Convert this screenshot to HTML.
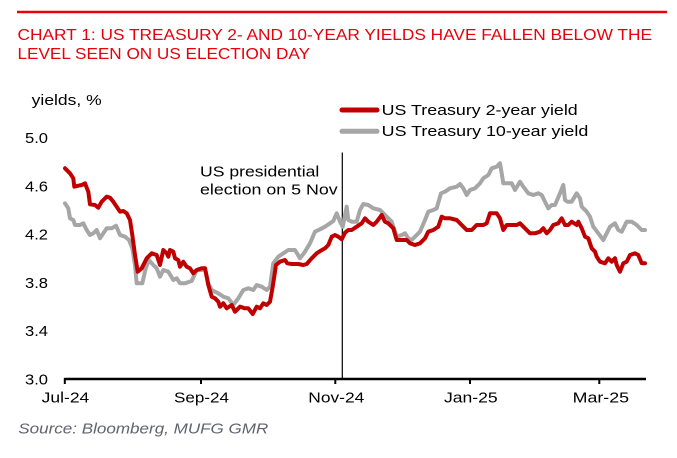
<!DOCTYPE html>
<html><head><meta charset="utf-8"><style>
html,body{margin:0;padding:0;background:#fff;}
svg{display:block;font-family:"Liberation Sans",Arial,sans-serif;}
</style></head><body>
<svg width="677" height="458" viewBox="0 0 677 458" xmlns="http://www.w3.org/2000/svg">
<rect width="677" height="458" fill="#fff"/>
<line x1="17" y1="12" x2="667" y2="12" stroke="#e8000b" stroke-width="2.5"/>
<text x="17.5" y="40" font-size="16" fill="#e8000b" textLength="634.5" lengthAdjust="spacingAndGlyphs">CHART 1: US TREASURY 2- AND 10-YEAR YIELDS HAVE FALLEN BELOW THE</text>
<text x="17.5" y="59" font-size="16" fill="#e8000b" textLength="292.5" lengthAdjust="spacingAndGlyphs">LEVEL SEEN ON US ELECTION DAY</text>

<text x="31.7" y="105" font-size="15" fill="#000" textLength="70" lengthAdjust="spacingAndGlyphs">yields, %</text>

<g font-size="15" fill="#000">
<text x="25" y="143" textLength="23" lengthAdjust="spacingAndGlyphs">5.0</text>
<text x="25" y="191.3" textLength="23" lengthAdjust="spacingAndGlyphs">4.6</text>
<text x="25" y="239.5" textLength="23" lengthAdjust="spacingAndGlyphs">4.2</text>
<text x="25" y="287.9" textLength="23" lengthAdjust="spacingAndGlyphs">3.8</text>
<text x="25" y="336.2" textLength="23" lengthAdjust="spacingAndGlyphs">3.4</text>
<text x="25" y="384.5" textLength="23" lengthAdjust="spacingAndGlyphs">3.0</text>
</g>

<!-- legend -->
<line x1="342" y1="110" x2="377" y2="110" stroke="#c00000" stroke-width="5" stroke-linecap="round"/>
<line x1="342" y1="131.3" x2="377" y2="131.3" stroke="#a6a6a6" stroke-width="5" stroke-linecap="round"/>
<text x="381.7" y="115" font-size="15" fill="#000" textLength="196" lengthAdjust="spacingAndGlyphs">US Treasury 2-year yield</text>
<text x="381.7" y="136" font-size="15" fill="#000" textLength="206.6" lengthAdjust="spacingAndGlyphs">US Treasury 10-year yield</text>

<!-- annotation -->
<text x="200" y="176.7" font-size="15" fill="#000" textLength="119.3" lengthAdjust="spacingAndGlyphs">US presidential</text>
<text x="200" y="194.3" font-size="15" fill="#000" textLength="137.7" lengthAdjust="spacingAndGlyphs">election on 5 Nov</text>
<line x1="342.3" y1="152.5" x2="342.3" y2="379" stroke="#000" stroke-width="1.2"/>

<!-- series -->
<polyline fill="none" stroke="#a6a6a6" stroke-width="4" stroke-linejoin="round" stroke-linecap="round" points="65,203.3 68.3,208.3 70,218.3 73.3,220 75,225 80,225 83.3,223.3 86.7,230 90,235 93.3,233.3 96.7,230 100,238.3 103.3,233.3 106.7,228.3 111.7,228.3 116,225.7 120,235 125,236.7 129,240 132.3,248.3 135,265 136.7,283.3 142.3,283.3 145.7,268.3 149,260 153.3,265 156.7,268.3 160,276.7 163.3,270 168.3,271.7 173.3,280 176.7,278.3 180,283.3 185,283.3 191.7,281 196.7,270 201.7,270 205,268.3 208.3,283.3 211.7,290 218.3,293.3 223.3,296.7 228.3,298.3 233.3,305 238.3,298.3 243.3,290 248.3,288.3 253.3,290 256.7,285 261.7,286.7 266.7,290 270,286.7 273.3,263.3 278.3,256.7 283.3,253.3 288.3,250 295,250 300,258.3 305,251.7 310,243.3 315,231.7 320,229.3 325,226.7 330,223.3 333.3,221 336.7,213.3 340,221.7 342.7,226.7 346.7,206.7 348.3,220 351.7,221.7 356.7,221.7 360,210 363.3,204 368.3,205 373.3,208.3 380,210 383.3,213.3 388.3,218.3 391.7,221.7 396.7,236.7 401.7,235 405,233.3 408.3,238.3 411.7,240 415,236.7 420,231.7 425,220 428.3,211.7 433.3,210 436.7,208.3 441,193.3 445,191.7 450,188.3 456.7,186.7 460,184 463.3,188.3 466.7,195 470,190 475,188.3 480,183.3 483.3,178.3 488.3,175 491.7,168.3 496.7,166.7 500,163.3 501.7,173.3 503.3,183.3 511.7,183.3 515,190 520,181.7 523.3,186.7 528.3,193.3 533.3,195 538.3,193.3 541.7,195 545,201.7 548.3,208.3 551.7,205 555,205 560,193.3 563.3,185 565,200 567.3,201.7 571.7,201.7 576.7,193.3 580,198.3 581.7,206.7 586.7,211.7 590,216.7 593.3,226.7 598.3,233.3 603.3,240 606.7,233.3 610,226.7 615,223.3 618.3,230 621.7,231.7 626.7,221.7 631.7,221.7 636.7,225 641.7,230 645,230"/>
<polyline fill="none" stroke="#c00000" stroke-width="4" stroke-linejoin="round" stroke-linecap="round" points="65,168.3 70,173.3 73.3,178.3 74.3,186.7 78.3,185.7 81.7,185 85,183.3 88.3,191.7 90,204.3 95,205 98.3,207.7 101.7,201.7 106.7,196.7 110,197.7 113.3,201.7 116.7,206.7 120,211.7 123.3,211 126.7,213.3 130,220 132.3,235 135,255 137.7,271.7 141.7,268.3 146.7,258.3 151.7,253.3 156.7,255 160,265 163.3,250 166.7,253.3 168.3,256.7 170,250 173.3,251.7 175,258.3 178.3,260 180,266.7 183.3,261.7 186.7,266.7 190,268.3 193.3,273.3 196.7,270 201.7,268.3 205,268.3 208.3,285 211.7,296.7 215,298.3 218.3,301.7 220,306.7 223.3,303.3 226.7,308.3 231.7,305 235,311.7 240,306.7 245,308.3 248.3,308.3 252.7,314 256.7,306.7 260,308.3 263.3,303.3 266.7,305 270,301.7 272.7,286.7 276,265 280,261.7 285,260 287.3,263.3 291.7,264 298.3,264 303.3,265 306.7,264 311.7,258.3 316.7,253.3 320.7,250.7 325,248.3 328.3,245 331.7,236.7 335,235 338.3,236.7 341.7,239.3 345,232.7 348.3,230 351.7,230 356.7,226.7 361.7,223.3 365,218.3 368.3,221.7 373.3,225 376.7,221.7 381.7,215 385,221.7 388.3,223.3 393.3,228.3 396.7,240 401.7,240 406.7,240 410,243.3 415,245 420,243.3 425,238.3 428.3,231.7 433.3,230 438.3,226.7 441.7,216.7 445,218.3 450,218.3 456.7,220 461.7,225 466.7,230 471.7,230 476.7,225 483.3,225 486.7,223.3 490,213.3 496.7,213.3 500,218.3 503.3,230 506.7,225 516.7,225 520,223.3 525,228.3 530,233.3 535,233.3 540,231.7 543.3,228.3 546.7,233.3 550,230 553.3,225 558.3,223.3 561.7,218.3 565,225 568.3,225 571.7,221.7 576.7,225 578.3,221.7 581.7,228.3 585,236.7 588.3,238.3 591.7,248.3 595,251.7 596.7,256.7 600,261.7 605,263.3 608.3,258.3 611.7,261.7 615,258.3 616.7,265 620,271.7 623.3,263.3 626.7,261.7 630,255 635,253.3 638.3,255 641.7,263.3 645,263.3"/>

<!-- x axis -->
<line x1="64.5" y1="379" x2="646" y2="379" stroke="#000" stroke-width="2.5"/>
<g stroke="#000" stroke-width="2">
<line x1="64.8" y1="378" x2="64.8" y2="384"/>
<line x1="201" y1="378" x2="201" y2="384"/>
<line x1="335.3" y1="378" x2="335.3" y2="384"/>
<line x1="470" y1="378" x2="470" y2="384"/>
<line x1="599.3" y1="378" x2="599.3" y2="384"/>
</g>
<g font-size="15" fill="#000">
<text x="41.7" y="402.3" textLength="47.6" lengthAdjust="spacingAndGlyphs">Jul-24</text>
<text x="174" y="402.3" textLength="55" lengthAdjust="spacingAndGlyphs">Sep-24</text>
<text x="308.3" y="402.3" textLength="56" lengthAdjust="spacingAndGlyphs">Nov-24</text>
<text x="444" y="402.3" textLength="53.7" lengthAdjust="spacingAndGlyphs">Jan-25</text>
<text x="572.7" y="402.3" textLength="56.3" lengthAdjust="spacingAndGlyphs">Mar-25</text>
</g>

<text x="18.3" y="433.3" font-size="15" font-style="italic" fill="#626270" textLength="250" lengthAdjust="spacingAndGlyphs">Source: Bloomberg, MUFG GMR</text>
</svg>
</body></html>
